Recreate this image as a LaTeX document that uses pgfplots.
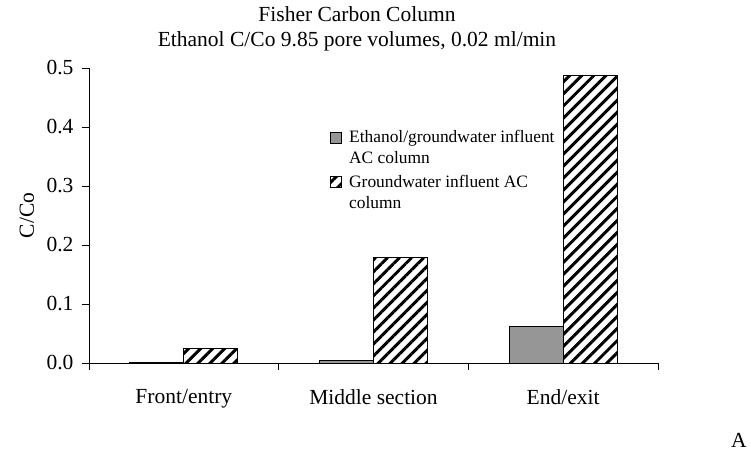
\documentclass[border=0pt]{standalone}
\usepackage{fontspec}
\setmainfont{Liberation Serif}
\usepackage{pgfplots}
\usepackage{pgfplotstable}
\pgfplotsset{compat=1.18}
\usetikzlibrary{patterns.meta}

\pgfplotstableread{
x eth gw
0 0.0015 0.025
1 0.004  0.179
2 0.0625 0.488
}\datatable

\newcommand{\bigf}{\fontsize{21.5bp}{25bp}\selectfont}
\newcommand{\legf}{\fontsize{17.4bp}{21bp}\selectfont}

\begin{document}
\begin{tikzpicture}
\path[use as bounding box] (0,0) rectangle (751bp,453bp);
\begin{axis}[
  at={(89bp,90bp)}, anchor=south west,
  scale only axis, width=569bp, height=295bp,
  xmin=-0.5, xmax=2.5, ymin=0, ymax=0.5,
  ybar=0pt, bar width=54bp,
  axis lines*=left,
  axis line style={line width=0.8bp},
  xtick={0,1,2},
  xticklabels={Front/entry,Middle section,End/exit},
  minor xtick={-0.5,0.5,1.5,2.5},
  major x tick style={draw=none},
  ytick={0,0.1,0.2,0.3,0.4,0.5},
  tick align=outside,
  major tick length=7bp, minor tick length=7bp,
  tick style={line width=0.8bp, black},
  /pgf/number format/assume math mode=true,
  tick label style={font=\bigf},
  xticklabel style={yshift=-16bp},
  yticklabel style={xshift=-5bp, /pgf/number format/.cd, fixed, fixed zerofill, precision=1},
  every axis y label/.style={at={(axis description cs:-0.109,0.5)}, rotate=90, anchor=center, font=\bigf},
  ylabel={C/Co},
  legend style={at={(0.423,0.795)}, anchor=north west, draw=none, fill=none,
    font=\legf, cells={align=left}, row sep=6bp, inner sep=0pt},
  legend cell align=left,
  legend image code/.code={\path[draw=none,fill=none] (0bp,0bp) -- (17bp,0bp);\draw[#1, line width=0.6bp] (0bp,5bp) rectangle (11bp,16bp);},
]
\addplot[draw=black, line width=0.8bp, fill={rgb,255:red,150;green,150;blue,150}] table[x=x,y=eth] {\datatable};
\addlegendentry{Ethanol/groundwater influent\\AC column}
\addplot[draw=black, line width=0.8bp, pattern={Lines[angle=45,distance=8.5bp,line width=3bp]}] table[x=x,y=gw] {\datatable};
\addlegendentry{Groundwater influent AC\\column}
\end{axis}
\node[align=center, font=\bigf, anchor=center] at (357bp,424.5bp) {Fisher Carbon Column\\Ethanol C/Co 9.85 pore volumes, 0.02 ml/min};
\node[font=\bigf, anchor=center] at (739bp,13bp) {A};
\end{tikzpicture}
\end{document}
